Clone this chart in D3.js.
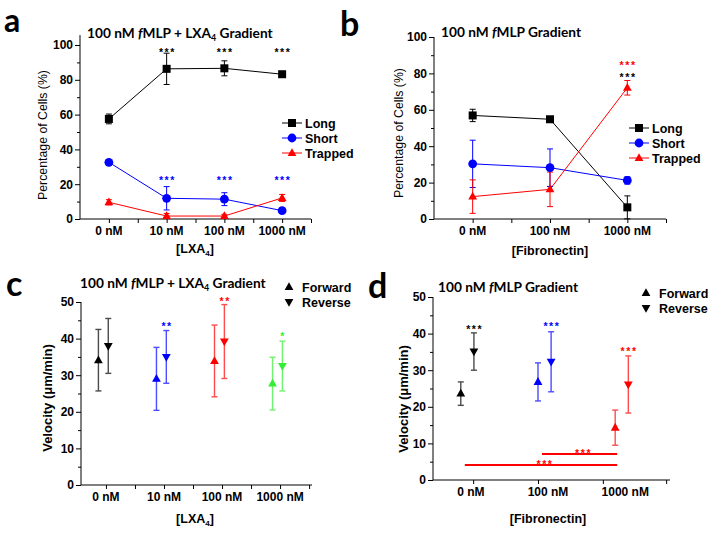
<!DOCTYPE html>
<html><head><meta charset="utf-8">
<script src="https://cdn.jsdelivr.net/npm/d3@7"></script>
<style>body{margin:0;background:#fff} svg{display:block}</style>
</head><body>
<svg id="chart" width="711" height="536"></svg>
<script>
// ---------------- data ----------------
const lxaCategories = ["0 nM", "10 nM", "100 nM", "1000 nM"];
const fnCategories = ["0 nM", "100 nM", "1000 nM"];
const morphSeries = ["Long", "Short", "Trapped"];
const velSeries = ["Forward", "Reverse"];

// panel a: % of cells, LXA4 gradient
const aLong = [57.5, 86.3, 86.6, 83.2];
const aLongErr = [2.8, 9.0, 4.3, 1.0];
const aShort = [32.6, 11.9, 11.4, 4.8];
const aShortErr = [1.0, 6.7, 3.7, 1.0];
const aTrapped = [9.6, 1.7, 1.7, 12.1];
const aTrappedErr = [1.5, 1.5, 1.0, 2.0];

// panel b: % of cells, fibronectin
const bLong = [56.9, 54.8, 6.4];
const bLongErr = [3.4, 0.8, 6.3];
const bShort = [30.3, 28.2, 21.2];
const bShortErr = [13.0, 10.3, 2.0];
const bTrapped = [12.3, 16.3, 72.1];
const bTrappedErr = [9.2, 9.5, 4.0];

// panel c: velocity, LXA4
const cForward = [34.1, 29.0, 33.9, 27.7];
const cForwardErr = [8.4, 8.6, 9.8, 7.2];
const cReverse = [38.0, 35.0, 39.2, 32.5];
const cReverseErr = [7.5, 7.2, 10.1, 6.8];

// panel d: velocity, fibronectin
const dForward = [23.6, 26.8, 14.3];
const dForwardErr = [3.2, 5.2, 4.8];
const dReverse = [35.1, 32.3, 26.1];
const dReverseErr = [5.1, 8.2, 7.8];

// significance marks
const aStarsLong = [null, "***", "***", "***"];
const aStarsShort = [null, "***", "***", "***"];
const bStarsTrapped = [null, null, "***"];
const bStarsLong = [null, null, "***"];
const cStars = [null, "**", "**", "*"];
const dStars = ["***", "***", "***"];
const dBrackets = [{from: 1, to: 2, level: 7.1, label: "***"}, {from: 0, to: 2, level: 4.1, label: "***"}];

// ---------------- styling ----------------
const BLACK = "#000000", BLUE = "#0000ff", RED = "#ff0000", GREEN = "#33ee33";
const seriesColors = [BLACK, BLUE, RED];
const shapes = ["square", "circle", "triUp"];
const cColors = [BLACK, BLUE, RED, GREEN];
const dColors = [BLACK, BLUE, RED];
const FONT = "'Liberation Sans', Arial, sans-serif";
const TFONT = "Lato, 'Open Sans', sans-serif";

const svg = d3.select("#chart");
svg.append("rect").attr("width", 711).attr("height", 536).attr("fill", "#fff");

function marker(g, type, cx, cy, color) {
  if (type === "square") {
    g.append("rect").attr("x", cx - 4).attr("y", cy - 4).attr("width", 8).attr("height", 8).attr("fill", color);
  } else if (type === "circle") {
    g.append("circle").attr("cx", cx).attr("cy", cy).attr("r", 4.4).attr("fill", color);
  } else if (type === "triUp") {
    g.append("path").attr("d", `M${cx},${cy - 4.8}L${cx + 4.4},${cy + 3}L${cx - 4.4},${cy + 3}Z`).attr("fill", color);
  } else {
    g.append("path").attr("d", `M${cx},${cy + 4.8}L${cx + 4.4},${cy - 3}L${cx - 4.4},${cy - 3}Z`).attr("fill", color);
  }
}

function errBar(g, cx, y, v, e, color, w, op) {
  const y0 = y(v - e), y1 = y(v + e);
  const s = g.append("g").attr("stroke", color).attr("stroke-width", w).attr("opacity", op);
  s.append("line").attr("x1", cx).attr("x2", cx).attr("y1", y0).attr("y2", y1);
  s.append("line").attr("x1", cx - 3).attr("x2", cx + 3).attr("y1", y0).attr("y2", y0);
  s.append("line").attr("x1", cx - 3).attr("x2", cx + 3).attr("y1", y1).attr("y2", y1);
}

function drawAxes(g, x, y, o) {
  const [x0, x1] = x.range();
  const yTop = o.yTop;
  g.append("g").attr("transform", `translate(${x0},0)`)
    .call(d3.axisLeft(y).tickValues(o.yMinor).tickSize(3).tickSizeOuter(0).tickFormat(""))
    .call(s => s.select(".domain").remove());
  g.append("g").attr("transform", `translate(${x0},0)`)
    .call(d3.axisLeft(y).tickValues(o.yMajor).tickSize(5).tickPadding(2).tickSizeOuter(0))
    .call(s => s.select(".domain").remove())
    .call(s => s.selectAll("text").attr("font-family", FONT).attr("font-weight", "bold").attr("font-size", 12).attr("fill", "#000"));
  g.append("g").attr("transform", `translate(0,${y(0)})`)
    .call(d3.axisBottom(x).tickValues(o.xTicks).tickSize(4).tickSizeOuter(0).tickFormat(""))
    .call(s => s.select(".domain").remove());
  g.append("line").attr("x1", x0).attr("x2", x0).attr("y1", y(0)).attr("y2", yTop).attr("stroke", "#000");
  g.append("line").attr("x1", x0).attr("x2", x1).attr("y1", y(0)).attr("y2", y(0)).attr("stroke", "#000");
  g.selectAll(null).data(o.cats).enter().append("text")
    .attr("x", (d, i) => x(i)).attr("y", y(0) + 15.5)
    .attr("text-anchor", "middle").attr("font-family", FONT).attr("font-weight", "bold").attr("font-size", 12)
    .text(d => d);
}

function title(g, x, yb, parts, size) {
  const t = g.append("text").attr("x", x).attr("y", yb).attr("font-family", TFONT).attr("font-weight", "bold").attr("font-size", size);
  parts.forEach(p => {
    const ts = t.append("tspan").text(p.t);
    if (p.i) ts.attr("font-style", "italic");
    if (p.sub) ts.attr("font-size", size * 0.65).attr("dy", 3);
    if (p.after) ts.attr("dy", -3);
  });
  return t;
}

const titleLXA = [{t: "100 nM "}, {t: "f", i: true}, {t: "MLP + LXA"}, {t: "4", sub: true}, {t: " Gradient", after: true}];
const titleFN = [{t: "100 nM "}, {t: "f", i: true}, {t: "MLP Gradient"}];

function xTitle(g, cx, yb, parts) {
  const t = g.append("text").attr("x", cx).attr("y", yb).attr("text-anchor", "middle")
    .attr("font-family", FONT).attr("font-weight", "bold").attr("font-size", 12.5);
  parts.forEach(p => {
    const ts = t.append("tspan").text(p.t);
    if (p.sub) ts.attr("font-size", 8).attr("dy", 3);
    if (p.after) ts.attr("dy", -3);
  });
}

function yTitle(g, x, cy, txt, bold, size) {
  g.append("text").attr("transform", `translate(${x},${cy}) rotate(-90)`).attr("text-anchor", "middle")
    .attr("font-family", FONT).attr("font-weight", bold ? "bold" : "normal").attr("font-size", size).text(txt);
}

function panelLetter(g, x, yb, l, size) {
  g.append("text").attr("x", x).attr("y", yb).attr("font-family", TFONT).attr("font-weight", "bold")
    .attr("font-size", size).text(l);
}

function stars(g, cx, cyVal, y, txt, color) {
  g.append("text").attr("x", cx + 0.8).attr("y", y(cyVal) + 6).attr("text-anchor", "middle")
    .attr("font-family", FONT).attr("font-weight", "bold").attr("font-size", 10.5).attr("letter-spacing", 1.6)
    .attr("fill", color).text(txt);
}

// ---------------- morphology panels (a, b) ----------------
function morphPanel(o) {
  const g = svg.append("g");
  const x = d3.scaleLinear().domain(o.xDomain).range(o.xRange);
  const y = d3.scaleLinear().domain([0, 100]).range(o.yRange);
  drawAxes(g, x, y, {yTop: y(o.yMaxAxis), yMajor: d3.range(0, 101, 20), yMinor: d3.range(10, 100, 20),
    xTicks: o.xTicks, cats: o.cats});
  const series = [o.long, o.short, o.trapped];
  const errs = [o.longErr, o.shortErr, o.trappedErr];
  series.forEach((vals, si) => {
    const line = d3.line().x((d, i) => x(i)).y(d => y(d));
    g.append("path").attr("d", line(vals)).attr("fill", "none").attr("stroke", seriesColors[si]).attr("stroke-width", 1);
  });
  series.forEach((vals, si) => {
    vals.forEach((v, i) => errBar(g, x(i), y, v, errs[si][i], seriesColors[si], 1, 1));
  });
  series.forEach((vals, si) => {
    vals.forEach((v, i) => marker(g, shapes[si], x(i), y(v), seriesColors[si]));
  });
  morphSeries.forEach((name, si) => {
    const ly = o.legY + si * 15;
    g.append("line").attr("x1", o.legX).attr("x2", o.legX + 20).attr("y1", ly).attr("y2", ly)
      .attr("stroke", seriesColors[si]).attr("stroke-width", 1);
    marker(g, shapes[si], o.legX + 10, ly, seriesColors[si]);
    g.append("text").attr("x", o.legX + 23).attr("y", ly + 4.5).attr("font-family", FONT)
      .attr("font-weight", "bold").attr("font-size", 12.5).text(name);
  });
  return {g, x, y};
}

const pa = morphPanel({xDomain: [-0.5, 3.5], xRange: [80, 311], yRange: [219, 45], yMaxAxis: 105.7,
  xTicks: d3.range(0, 3.51, 0.5), cats: lxaCategories,
  long: aLong, longErr: aLongErr, short: aShort, shortErr: aShortErr, trapped: aTrapped, trappedErr: aTrappedErr,
  legX: 282, legY: 123});
aStarsLong.forEach((s, i) => { if (s) stars(pa.g, pa.x(i), 97.0, pa.y, s, BLACK); });
aStarsShort.forEach((s, i) => { if (s) stars(pa.g, pa.x(i), 23.5, pa.y, s, BLUE); });
title(pa.g, 87, 38, titleLXA, 13.7);
xTitle(pa.g, 195, 253, [{t: "[LXA"}, {t: "4", sub: true}, {t: "]", after: true}]);
yTitle(pa.g, 47, 135, "Percentage of Cells (%)", false, 12.3);
panelLetter(pa.g, 4, 32, "a", 32);

const pb = morphPanel({xDomain: [-0.5, 2.5], xRange: [434, 666], yRange: [219, 37], yMaxAxis: 100,
  xTicks: d3.range(0, 2.51, 0.5), cats: fnCategories,
  long: bLong, longErr: bLongErr, short: bShort, shortErr: bShortErr, trapped: bTrapped, trappedErr: bTrappedErr,
  legX: 629, legY: 128});
bStarsTrapped.forEach((s, i) => { if (s) stars(pb.g, pb.x(i), 85.5, pb.y, s, RED); });
bStarsLong.forEach((s, i) => { if (s) stars(pb.g, pb.x(i), 79.0, pb.y, s, BLACK); });
title(pb.g, 441, 37, titleFN, 13.7);
xTitle(pb.g, 550, 255, [{t: "[Fibronectin]"}]);
yTitle(pb.g, 403, 133, "Percentage of Cells (%)", false, 12.3);
panelLetter(pb.g, 340, 36, "b", 34);

// ---------------- velocity panels (c, d) ----------------
const F_OFF = -0.13, R_OFF = 0.04;
function velPanel(o) {
  const g = svg.append("g");
  const x = d3.scaleLinear().domain(o.xDomain).range(o.xRange);
  const y = d3.scaleLinear().domain([0, 50]).range(o.yRange);
  drawAxes(g, x, y, {yTop: y(50), yMajor: d3.range(0, 51, 10), yMinor: d3.range(5, 50, 10),
    xTicks: o.xTicks, cats: o.cats});
  o.fwd.forEach((v, i) => errBar(g, x(i + F_OFF), y, v, o.fwdErr[i], o.colors[i], 1.4, 0.7));
  o.rev.forEach((v, i) => errBar(g, x(i + R_OFF), y, v, o.revErr[i], o.colors[i], 1.4, 0.7));
  o.fwd.forEach((v, i) => marker(g, "triUp", x(i + F_OFF), y(v), o.colors[i]));
  o.rev.forEach((v, i) => marker(g, "triDown", x(i + R_OFF), y(v), o.colors[i]));
  velSeries.forEach((name, si) => {
    const ly = o.legY + si * 15;
    marker(g, si === 0 ? "triUp" : "triDown", o.legX, ly, BLACK);
    g.append("text").attr("x", o.legX + 13).attr("y", ly + 4.5).attr("font-family", FONT)
      .attr("font-weight", "bold").attr("font-size", 12.5).text(name);
  });
  return {g, x, y};
}

const pc = velPanel({xDomain: [-0.43, 3.55], xRange: [81, 312], yRange: [485, 302],
  xTicks: d3.range(0, 3.51, 0.5), cats: lxaCategories,
  fwd: cForward, fwdErr: cForwardErr, rev: cReverse, revErr: cReverseErr, colors: cColors,
  legX: 289, legY: 287});
const cStarLevels = [0, 44.0, 50.8, 41.3];
cStars.forEach((s, i) => { if (s) stars(pc.g, pc.x(i + R_OFF), cStarLevels[i], pc.y, s, cColors[i]); });
title(pc.g, 80, 288, titleLXA, 13.7);
xTitle(pc.g, 195, 523, [{t: "[LXA"}, {t: "4", sub: true}, {t: "]", after: true}]);
yTitle(pc.g, 52, 398, "Velocity (\u03bcm/min)", true, 13);
panelLetter(pc.g, 6, 296, "c", 34);

const pd = velPanel({xDomain: [-0.49, 2.58], xRange: [433, 670], yRange: [480, 297],
  xTicks: [0.03, 0.87, 1.71, 2.53], cats: fnCategories,
  fwd: dForward, fwdErr: dForwardErr, rev: dReverse, revErr: dReverseErr, colors: dColors,
  legX: 646, legY: 293});
const dStarLevels = [41.7, 42.5, 35.7];
dStars.forEach((s, i) => { if (s) stars(pd.g, pd.x(i + R_OFF), dStarLevels[i], pd.y, s, dColors[i]); });
dBrackets.forEach(b => {
  const x1 = pd.x(b.from + F_OFF) + 4, x2 = pd.x(b.to + F_OFF) + 2;
  pd.g.append("line").attr("x1", x1).attr("x2", x2).attr("y1", pd.y(b.level)).attr("y2", pd.y(b.level))
    .attr("stroke", RED).attr("stroke-width", 2);
  pd.g.append("text").attr("x", (x1 + x2) / 2 + 4).attr("y", pd.y(b.level) + 3).attr("text-anchor", "middle")
    .attr("font-family", FONT).attr("font-weight", "bold").attr("font-size", 10.5).attr("letter-spacing", 1.6)
    .attr("fill", RED).text(b.label);
});
title(pd.g, 438, 292, titleFN, 13.7);
xTitle(pd.g, 548, 523, [{t: "[Fibronectin]"}]);
yTitle(pd.g, 408, 399, "Velocity (\u03bcm/min)", true, 13);
panelLetter(pd.g, 368, 298, "d", 34);
</script>
</body></html>
